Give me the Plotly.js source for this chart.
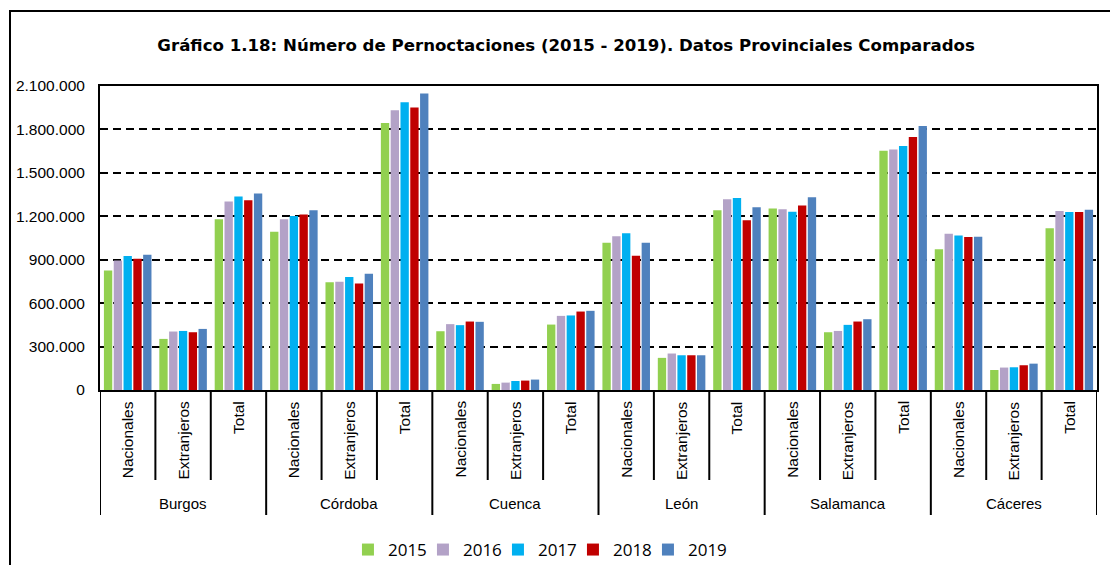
<!DOCTYPE html>
<html>
<head>
<meta charset="utf-8">
<script src="https://cdn.plot.ly/plotly-3.0.1.min.js"></script>
<style>html,body{margin:0;padding:0;background:#fff;overflow:hidden;}#chart{width:1110px;height:565px;}</style>
</head>
<body>
<div id="chart"></div>
<script>
const provinces = ['Burgos','Córdoba','Cuenca','León','Salamanca','Cáceres'];
const types = ['Nacionales','Extranjeros','Total'];
const years = ['2015','2016','2017','2018','2019'];
const colors = ['#92D050','#B3A2C7','#00B0F0','#C00000','#4F81BD'];

// values per year, order: province x (Nacionales, Extranjeros, Total)
const v2015 = [826000,353000,1179000, 1094000,745000,1844000, 406000,42000,452000, 1018000,222000,1242000, 1253000,399000,1652000, 972000,138000,1117000];
const v2016 = [895000,404000,1302000, 1179000,748000,1932000, 455000,51000,512000, 1062000,252000,1318000, 1248000,408000,1662000, 1080000,155000,1237000];
const v2017 = [925000,408000,1336000, 1202000,780000,1987000, 448000,62000,515000, 1082000,240000,1327000, 1232000,450000,1685000, 1068000,157000,1230000];
const v2018 = [907000,399000,1311000, 1212000,736000,1952000, 473000,65000,542000, 928000,240000,1172000, 1274000,473000,1747000, 1057000,171000,1230000];
const v2019 = [935000,422000,1357000, 1242000,803000,2049000, 471000,72000,547000, 1018000,240000,1262000, 1332000,489000,1823000, 1059000,182000,1246000];
const series = [v2015,v2016,v2017,v2018,v2019];

const lab = '"Liberation Sans", Arial, sans-serif';

const cats = [];
provinces.forEach(p => types.forEach(t => cats.push(p + ' · ' + t)));

const traces = years.map((y, i) => ({
  type: 'bar',
  name: y,
  x: cats,
  y: series[i],
  marker: {color: colors[i], line: {width: 0}},
  hoverinfo: 'x+y+name'
}));

// layout geometry (pixels -> paper)
const mT = 86, mB = 175, plotH = 565 - mT - mB;
const py = p => (565 - mB - p) / plotH;

const shapes = [];
const annotations = [];
// separators
for (let k = 0; k <= cats.length; k++) {
  const isProv = (k % types.length === 0);
  shapes.push({type:'line', xref:'x', yref:'paper', x0:k-0.5, x1:k-0.5, y0:0, y1: isProv ? py(515) : py(480), line:{color:'#000', width:2}});
}
// inner labels
cats.forEach((c, i) => {
  annotations.push({xref:'x', yref:'paper', x:i, y:py(399), text: types[i % types.length], textangle:-90, showarrow:false, xanchor:'center', yanchor:'top', font:{family:lab, size:15.5, color:'#000'}});
});
// province labels
provinces.forEach((p, j) => {
  annotations.push({xref:'x', yref:'paper', x:j*types.length + 1, y:py(503), text:p, showarrow:false, xanchor:'center', yanchor:'middle', font:{family:lab, size:15, color:'#000'}});
});
// outer frame
shapes.push({type:'rect', xref:'paper', yref:'paper', x0:(10-100)/997, x1:(1125-100)/997, y0:py(580), y1:py(11), line:{color:'#000', width:2}, fillcolor:'rgba(0,0,0,0)', layer:'below'});

const layout = {
  width: 1110, height: 565,
  margin: {l:100, r:13, t:mT, b:mB, autoexpand:false},
  paper_bgcolor:'#fff', plot_bgcolor:'#fff',
  separators: ',.',
  title: {text:'Gráfico 1.18: Número de Pernoctaciones (2015 - 2019). Datos Provinciales Comparados', x:0.51, xanchor:'center', y:1-45/565, yanchor:'middle', font:{family:'"DejaVu Sans", Verdana, sans-serif', size:16.6, color:'#000', weight:'bold'}},
  barmode:'group', bargap:0.115, bargroupgap:0.15,
  xaxis: {type:'category', range:[-0.5, cats.length-0.5], showticklabels:false, showgrid:false, zeroline:false, showline:true, linecolor:'#000', linewidth:2, mirror:true, ticks:'', fixedrange:true},
  yaxis: {range:[0, 2100000], dtick:300000, tick0:0, tickformat:',d', showgrid:true, gridcolor:'#000', gridwidth:2, griddash:'8px,5px', zeroline:false, showline:true, linecolor:'#000', linewidth:2, mirror:true, ticks:'', ticklabelstandoff:10, tickfont:{family:lab, size:15.5, color:'#000'}, fixedrange:true},
  showlegend:true,
  legend: {orientation:'h', x:0.2487, xanchor:'left', yref:'container', y:1-550/565, yanchor:'middle', font:{family:'"Open Sans", "Liberation Sans", sans-serif', size:17, color:'#000'}, itemwidth:30, entrywidth:30, traceorder:'normal', bgcolor:'rgba(0,0,0,0)'},
  shapes: shapes,
  annotations: annotations
};

Plotly.newPlot('chart', traces, layout, {displayModeBar:false, staticPlot:true}).then(gd => {
  // let the last legend label overflow its fixed-width entry instead of being clipped
  gd.querySelectorAll('.legend [clip-path]').forEach(e => e.removeAttribute('clip-path'));
});
</script>
</body>
</html>
